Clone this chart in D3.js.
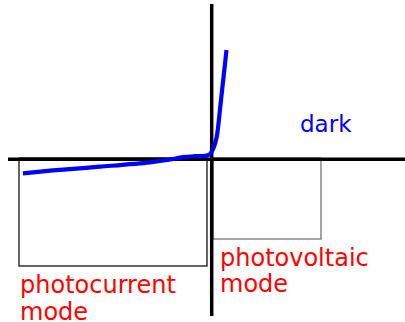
<!DOCTYPE html>
<html>
<head>
<meta charset="utf-8">
<script src="https://cdn.jsdelivr.net/npm/d3@7"></script>
<style>
  body { margin: 0; background: #fff; }
  text { font-family: "DejaVu Sans", sans-serif; }
</style>
</head>
<body>
<div class="chart"></div>
<script>
// I-V curve of a photodiode, arbitrary units (voltage, current)
var voltage = [-1.88, -1.61, -1.11, -0.61, -0.42, -0.28, -0.16, -0.06, -0.02, 0.005, 0.025, 0.055, 0.10, 0.155];
var current = [-0.153, -0.127, -0.087, -0.043, -0.018, 0.008, 0.018, 0.022, 0.032, 0.06, 0.10, 0.20, 0.58, 1.08];

// operating regions
var regionNames = ["photocurrent", "photovoltaic"];
var regionX0 = [-1.92, 0.02];
var regionX1 = [-0.04, 1.1];
var regionY0 = [0, 0];
var regionY1 = [-1.08, -0.81];

var labels = [["photocurrent", "mode"], ["photovoltaic", "mode"]];

function init() {
  var w = 405;
  var h = 322;

  var xScale = d3.scaleLinear()
    .domain([-2.03, 1.94])
    .range([8, 405]);

  var yScale = d3.scaleLinear()
    .domain([-1.58, 1.54])
    .range([316, 4]);

  var svg = d3.select(".chart")
    .append("svg")
    .attr("width", w)
    .attr("height", h);

  // region boxes
  svg.selectAll(".region")
    .data(regionNames)
    .enter()
    .append("rect")
    .attr("class", "region")
    .attr("x", function(d, i) { return xScale(regionX0[i]); })
    .attr("y", function(d, i) { return yScale(regionY0[i]); })
    .attr("width", function(d, i) { return xScale(regionX1[i]) - xScale(regionX0[i]); })
    .attr("height", function(d, i) { return yScale(regionY1[i]) - yScale(regionY0[i]); })
    .attr("fill", "none")
    .attr("stroke", function(d, i) { return i == 0 ? "#000" : "#666"; })
    .attr("stroke-width", 1.2);

  // axes
  svg.append("line")
    .attr("x1", xScale(-2.03)).attr("x2", xScale(1.94))
    .attr("y1", yScale(-0.012)).attr("y2", yScale(-0.012))
    .attr("stroke", "#000")
    .attr("stroke-width", 3.5);

  svg.append("line")
    .attr("x1", xScale(0.007)).attr("x2", xScale(0.007))
    .attr("y1", yScale(1.54)).attr("y2", yScale(-1.58))
    .attr("stroke", "#000")
    .attr("stroke-width", 3.5);

  // dark curve
  var pts = voltage.map(function(v, i) { return [v, current[i]]; });
  svg.append("path")
    .datum(pts)
    .attr("fill", "none")
    .attr("stroke", "#0000ff")
    .attr("stroke-width", 4.2)
    .attr("d", d3.line()
      .curve(d3.curveCatmullRom.alpha(0.5))
      .x(function(d) { return xScale(d[0]); })
      .y(function(d) { return yScale(d[1]); }));

  svg.append("text")
    .attr("x", 300)
    .attr("y", 131.7)
    .attr("fill", "#0000ff")
    .style("font-size", "23px")
    .text("dark");

  // mode labels, one text per line
  var labelX = [20, 220];
  var labelY = [293.3, 266];
  labels.forEach(function(lines, i) {
    lines.forEach(function(s, j) {
      svg.append("text")
        .attr("x", labelX[i])
        .attr("y", labelY[i] + j * 26.3)
        .attr("fill", "#ff0000")
        .style("font-size", "24px")
        .text(s);
    });
  });
}
window.onload = init;
</script>
</body>
</html>
